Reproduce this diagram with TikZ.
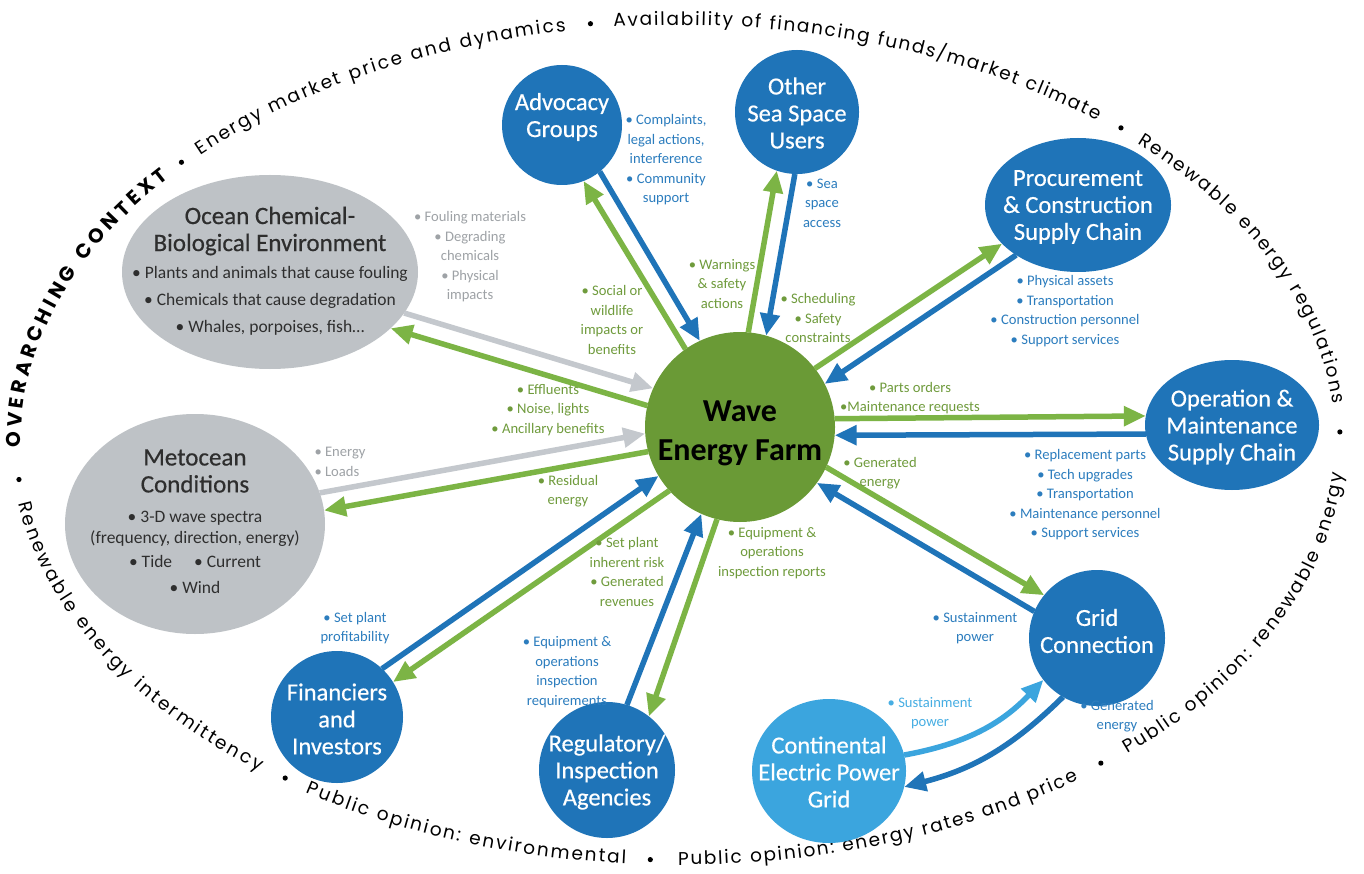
\documentclass[tikz,border=0pt]{standalone}
\usepackage{fontspec}
\setmainfont{Carlito}
\newfontfamily\arcfont{Poppins}
\newfontfamily\titlefont{Carlito}[FakeBold=0.5]
\usetikzlibrary{shapes.geometric, arrows.meta, decorations.text, calc}
\definecolor{nodeblue}{HTML}{1F74B8}
\definecolor{lightblue}{HTML}{3BA5DE}
\definecolor{farmgreen}{HTML}{6A9A36}
\definecolor{arrowgreen}{HTML}{7CB445}
\definecolor{nodegrey}{HTML}{BEC2C6}
\definecolor{arrowgrey}{HTML}{C4C8CD}
\definecolor{labgreen}{HTML}{6F9B3C}
\definecolor{labblue}{HTML}{2C7DBE}
\definecolor{labgrey}{HTML}{9EA2A6}
\definecolor{labltblue}{HTML}{47AEE3}
\definecolor{darktext}{HTML}{2E2E2E}
\newcommand{\arctext}[4]{%
  \path[decorate, decoration={text along path, text={|#3|#4}, text align={fit to path}, raise=-5pt, text color=black}]
    ($(E)+(#1:662 and 420)$) arc[start angle=#1, end angle=#2, x radius=662, y radius=420];}
\newcommand{\arcfnt}{\arcfont\fontsize{18.5}{22}\selectfont}
\begin{document}
\begin{tikzpicture}[x=1pt, y=-1pt,
  shapebase/.style={inner sep=0pt, outer sep=0pt},
  bcirc/.style={circle, fill=nodeblue, shapebase},
  bell/.style={ellipse, fill=nodeblue, shapebase},
  gell/.style={ellipse, fill=nodegrey, shapebase},
  title/.style={align=center, text=white, font=\titlefont\fontsize{24.5}{27}\selectfont},
  gtitle/.style={align=center, text=darktext, font=\titlefont\fontsize{25}{27}\selectfont},
  gbody/.style={align=center, text=darktext, font=\fontsize{17.5}{27}\selectfont},
  lab/.style={align=center, font=\fontsize{14.6}{19.5}\selectfont},
  labg/.style={lab, text=labgreen},
  labb/.style={lab, text=labblue},
  labgr/.style={lab, text=labgrey},
  lablb/.style={lab, text=labltblue},
  link/.style={line width=5.5pt, -{Triangle[length=22pt,width=19pt]}},
  garrow/.style={link, draw=arrowgreen},
  barrow/.style={link, draw=nodeblue},
  grarrow/.style={link, draw=arrowgrey},
  lbarrow/.style={link, draw=lightblue}]
\useasboundingbox (0,0) rectangle (1364,874);
\fill[white] (0,0) rectangle (1364,874);
\coordinate (E) at (678,440);

% overarching context ring
\arctext{179}{219.3}{\arcfont\bfseries\fontsize{20}{24}\selectfont}{OVERARCHING CONTEXT}
\arctext{223.5}{260.2}{\arcfnt}{Energy market price and dynamics}
\arctext{264.4}{309.5}{\arcfnt}{Availability of financing funds/market climate}
\arctext{314.3}{355}{\arcfnt}{Renewable energy regulations}
\arctext{171.5}{129}{\arcfnt}{Renewable energy intermittency}
\arctext{124}{94.5}{\arcfnt}{Public opinion: environmental}
\arctext{90}{53}{\arcfnt}{Public opinion: energy rates and price}
\arctext{47.5}{4.5}{\arcfnt}{Public opinion: renewable energy}
\foreach \a in {221.4,262.4,312,358.9,174.6,126.4,92.4,50.3}
  \fill ($(E)+(\a:662 and 420)$) circle[radius=2.6pt];

% shapes
\node[circle, fill=farmgreen, shapebase, minimum size=190pt] (farm) at (740,427) {};
\node[bcirc, minimum size=120pt] (adv) at (562,125) {};
\node[bcirc, minimum size=124pt] (other) at (797,112) {};
\node[bell, minimum width=186pt, minimum height=134pt] (proc) at (1078,205) {};
\node[bell, minimum width=174pt, minimum height=130pt] (om) at (1232,425) {};
\node[bcirc, minimum size=136pt] (grid) at (1097,638) {};
\node[ellipse, fill=lightblue, shapebase, minimum width=154pt, minimum height=144pt] (cont) at (829,771) {};
\node[bcirc, minimum size=136pt] (reg) at (607,770) {};
\node[bcirc, minimum size=132pt] (fin) at (337,717) {};
\node[gell, minimum width=260pt, minimum height=220pt] (met) at (195,524) {};
\node[gell, minimum width=296pt, minimum height=194pt] (ocean) at (270,272) {};

% connectors
\draw[garrow] (farm.125.9) -- (adv.291.9);
\draw[barrow] (adv.309.1) -- (farm.115.1);
\draw[garrow] (farm.85.1) -- (other.251.4);
\draw[barrow] (other.268) -- (farm.74.3);
\draw[garrow] (farm.38.7) -- (proc.207);
\draw[barrow] (proc.219.6) -- (farm.27.9);
\draw[garrow] (farm.5.6) -- (om.174.3);
\draw[barrow] (om.186.1) -- (farm.-5.2);
\draw[garrow] (farm.-25.2) -- (grid.141.8);
\draw[barrow] (grid.157) -- (farm.-36);
\draw[garrow] (farm.256) -- (reg.52);
\draw[barrow] (reg.73) -- (farm.246);
\draw[garrow] (farm.222) -- (fin.32);
\draw[barrow] (fin.47) -- (farm.211);
\draw[garrow] (farm.195.5) -- (met.6.1);
\draw[grarrow] (met.14.1) -- (farm.184.7);
\draw[garrow] (farm.167.1) -- (ocean.-25);
\draw[grarrow] (ocean.-17) -- (farm.156.3);
\draw[lbarrow] (cont.12) to[bend right=18] (grid.218);
\draw[barrow] (grid.240) to[bend left=15] (cont.-12);

% shape texts
\node[align=center, text=black, font=\fontsize{32}{39}\selectfont\bfseries] (farmt) at (740,433) {Wave\\Energy Farm};
\node[title] (advt) at (562,117) {Advocacy\\Groups};
\node[title] (othert) at (797,113) {Other\\Sea Space\\Users};
\node[title] (proct) at (1078,207) {Procurement\\\& Construction\\Supply Chain};
\node[title] (omt) at (1232,427) {Operation \&\\Maintenance\\Supply Chain};
\node[title] (gridt) at (1097,631) {Grid\\Connection};
\node[title] (contt) at (829,772) {Continental\\Electric Power\\Grid};
\node[title] (regt) at (607,772) {Regulatory/\\Inspection\\Agencies};
\node[title] (fint) at (337,719) {Financiers\\and\\Investors};
\node[gtitle] (oceant) at (270,231) {Ocean Chemical-\\Biological Environment};
\node[gbody] (oceanb) at (270,301) {\textbullet\ Plants and animals that cause fouling\\\textbullet\ Chemicals that cause degradation\\\textbullet\ Whales, porpoises, fish…};
\node[gtitle] (mett) at (195,471) {Metocean\\Conditions};
\node[gbody, font=\fontsize{17.5}{21}\selectfont] (metb) at (195,552) {\textbullet\ 3-D wave spectra\\(frequency, direction, energy)\\[3pt]\textbullet\ Tide\hspace{22pt}\textbullet\ Current\\[5pt]\textbullet\ Wind};

% connector labels
\node[labb] (advlab) at (666,160) {\textbullet\ Complaints,\\legal actions,\\interference\\\textbullet\ Community\\support};
\node[labb] (otherlab) at (822,203) {\textbullet\ Sea\\space\\access};
\node[labg] (sociallab) at (612,320) {\textbullet\ Social or\\wildlife\\impacts or\\benefits};
\node[labg] (warnlab) at (722,284) {\textbullet\ Warnings\\\& safety\\actions};
\node[labg] (schedlab) at (818,318) {\textbullet\ Scheduling\\\textbullet\ Safety\\constraints};
\node[labb] (proclab) at (1065,311) {\textbullet\ Physical assets\\\textbullet\ Transportation\\\textbullet\ Construction personnel\\\textbullet\ Support services};
\node[labg] (partslab) at (910,398) {\textbullet\ Parts orders\\\textbullet Maintenance requests};
\node[labb] (omlab) at (1085,495) {\textbullet\ Replacement parts\\\textbullet\ Tech upgrades\\\textbullet\ Transportation\\\textbullet\ Maintenance personnel\\\textbullet\ Support services};
\node[labg] (genlab) at (880,473) {\textbullet\ Generated\\energy};
\node[labg] (eqreplab) at (772,553) {\textbullet\ Equipment \&\\operations\\inspection reports};
\node[labb] (sust1lab) at (975,628) {\textbullet\ Sustainment\\power};
\node[lablb] (sust2lab) at (930,713) {\textbullet\ Sustainment\\power};
\node[labb] (gen2lab) at (1117,716) {\textbullet\ Generated\\energy};
\node[labgr] (oceanlab) at (470,257) {\textbullet\ Fouling materials\\\textbullet\ Degrading\\chemicals\\\textbullet\ Physical\\impacts};
\node[labg] (efflab) at (548,410) {\textbullet\ Effluents\\\textbullet\ Noise, lights\\\textbullet\ Ancillary benefits};
\node[labgr, align=left, anchor=west] (energylab) at (311,462) {\textbullet\ Energy\\\textbullet\ Loads};
\node[labg] (residlab) at (568,491) {\textbullet\ Residual\\energy};
\node[labg] (risklab) at (627,572) {\textbullet\ Set plant\\inherent risk\\\textbullet\ Generated\\revenues};
\node[labb] (proflab) at (355,628) {\textbullet\ Set plant\\profitability};
\node[labb] (eqreqlab) at (567,672) {\textbullet\ Equipment \&\\operations\\inspection\\requirements};
\end{tikzpicture}
\end{document}
